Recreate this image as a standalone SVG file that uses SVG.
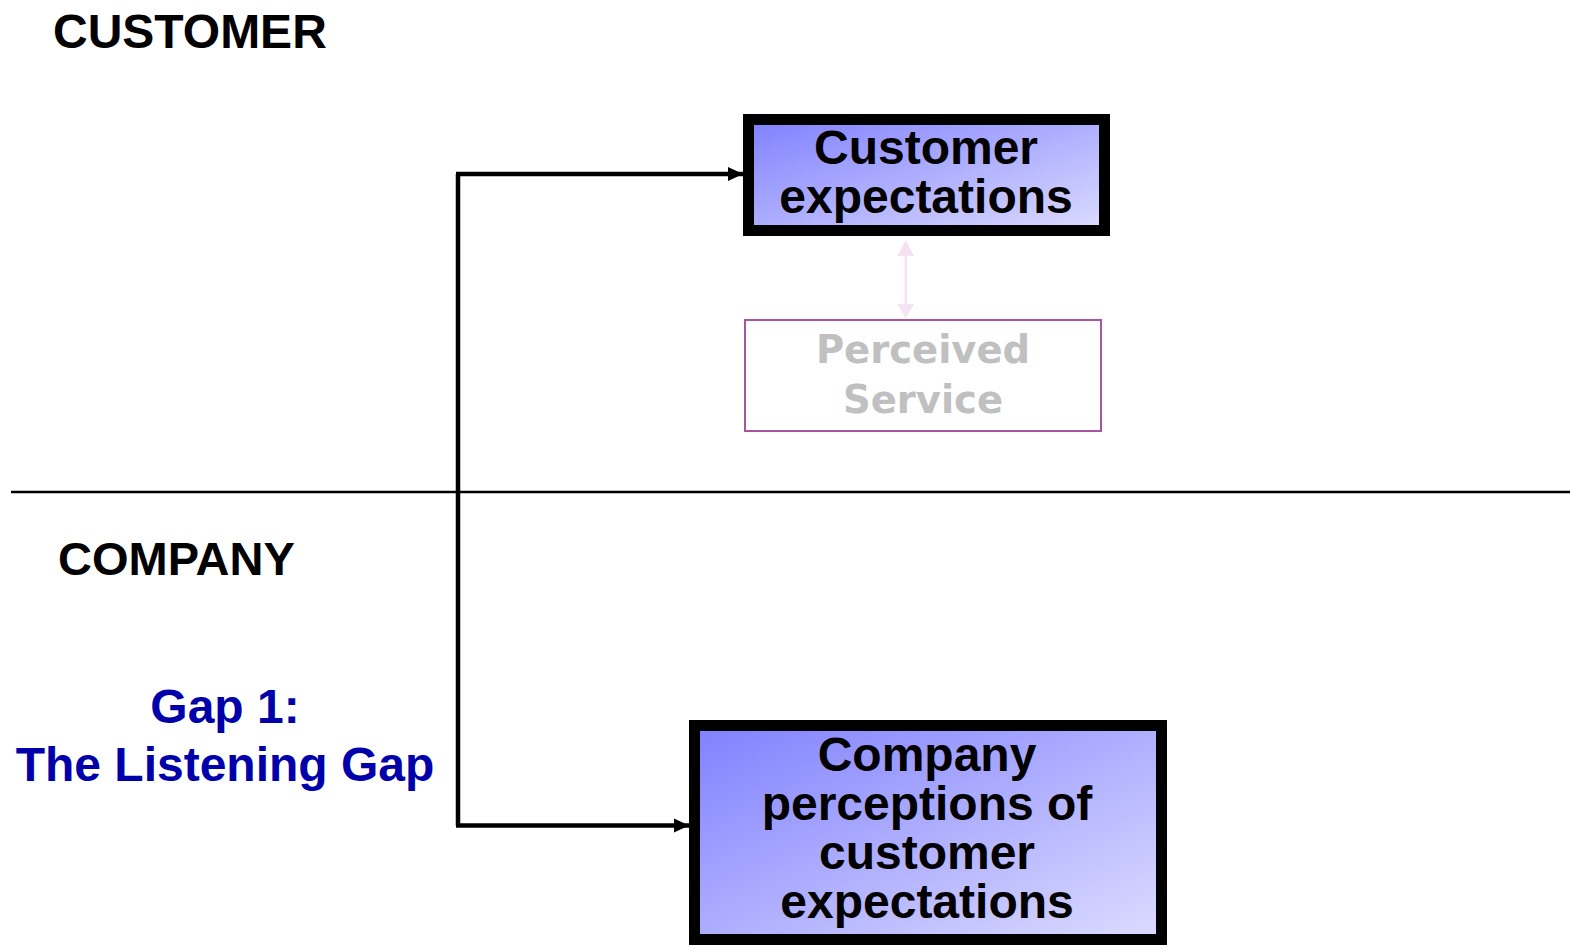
<svg xmlns="http://www.w3.org/2000/svg" width="1570" height="945" viewBox="0 0 1570 945">
<style>
.lbl{font-family:"Liberation Sans",Arial,sans-serif;font-weight:bold;font-size:47px;fill:#000}
.gap{font-family:"Liberation Sans",Arial,sans-serif;font-weight:bold;font-size:48px;fill:#0000AA;text-anchor:middle}
.box{stroke:#000;stroke-width:11;fill:url(#grad)}
.btxt{font-family:"Liberation Sans",Arial,sans-serif;font-weight:bold;font-size:48px;fill:#000;text-anchor:middle}
.ptxt{font-family:"DejaVu Sans",Verdana,sans-serif;font-weight:bold;font-size:38.5px;fill:#c0c0c0;text-anchor:middle}
.conn{stroke:#000;stroke-width:4.5;fill:none}
</style>
<defs>
<linearGradient id="grad" x1="0" y1="0" x2="1" y2="1">
<stop offset="0" stop-color="#8080ff"/>
<stop offset="1" stop-color="#dcdcff"/>
</linearGradient>
<marker id="arr" markerWidth="16" markerHeight="16" refX="15" refY="8" orient="auto" markerUnits="userSpaceOnUse">
<path d="M0,1 L15,8 L0,15 Z" fill="#000"/>
</marker>
</defs>
<rect width="1570" height="945" fill="#fff"/>
<g id="labels">
<text class="lbl" x="53" y="48" style="font-size:48px">CUSTOMER</text>
<text class="lbl" x="58" y="575">COMPANY</text>
<text class="gap" x="225" y="723">Gap 1:</text>
<text class="gap" x="225" y="781">The Listening Gap</text>
</g>
<line x1="11" y1="492" x2="1570" y2="492" stroke="#000" stroke-width="2.5"/>
<g id="connectors">
<path class="conn" d="M458,174 L458,825.5"/>
<path class="conn" d="M456,174 L743,174" marker-end="url(#arr)"/>
<path class="conn" d="M456,825.5 L689,825.5" marker-end="url(#arr)"/>
<g fill="#f5e2f2" stroke="none">
<rect x="904.5" y="255" width="2.5" height="50"/>
<path d="M905.7,240 L914,256 L897.4,256 Z"/>
<path d="M905.7,318 L914,304 L897.4,304 Z"/>
</g>
</g>
<g id="customer-expectations">
<rect class="box" x="748.5" y="119.5" width="356" height="111"/>
<text class="btxt" x="926" y="164">Customer</text>
<text class="btxt" x="926" y="213">expectations</text>
</g>
<g id="perceived-service">
<rect x="745" y="320" width="356" height="111" fill="#fff" stroke="#a855a0" stroke-width="2"/>
<text class="ptxt" x="923" y="363">Perceived</text>
<text class="ptxt" x="923" y="413">Service</text>
</g>
<g id="company-perceptions">
<rect class="box" x="694.5" y="725.5" width="467" height="214"/>
<text class="btxt" x="927" y="771">Company</text>
<text class="btxt" x="927" y="820">perceptions of</text>
<text class="btxt" x="927" y="869">customer</text>
<text class="btxt" x="927" y="918">expectations</text>
</g>
</svg>
